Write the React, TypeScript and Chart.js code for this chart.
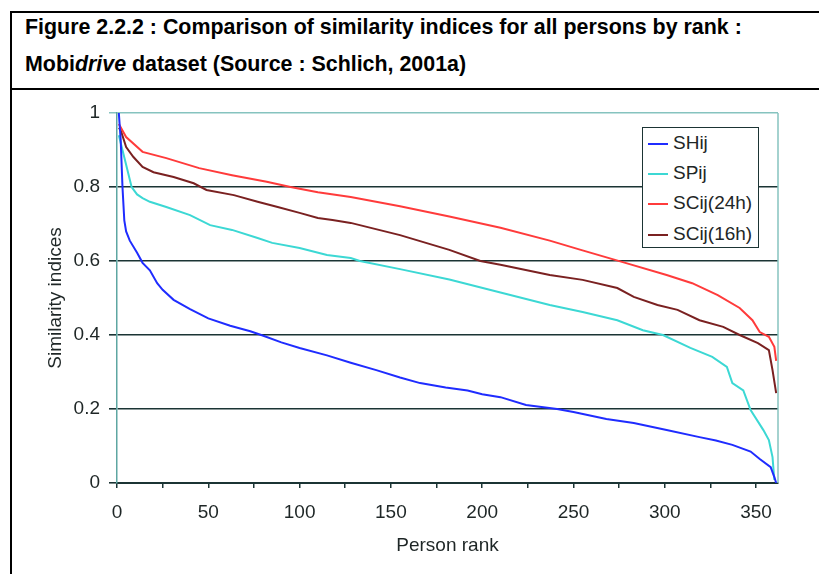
import React, { useEffect, useRef } from 'react';
import { Chart, registerables } from 'chart.js';

Chart.register(...registerables);

// ---- data ----
const seriesNames = ['SHij', 'SPij', 'SCij(24h)', 'SCij(16h)'];
const seriesColors = ['#1f2cff', '#3cd8d4', '#ff3b3b', '#7a2121'];

const shRank = [1, 2, 3, 4, 5, 7, 11, 14, 18, 22, 25, 31, 40, 50, 62, 73, 79, 90, 100, 115, 128, 142, 155, 166, 180, 192, 200, 210, 224, 241, 250, 268, 283, 301, 319, 328, 337, 347, 352, 358, 360, 361];
const shValue = [1.0, 0.93, 0.8, 0.71, 0.68, 0.655, 0.622, 0.595, 0.575, 0.54, 0.522, 0.495, 0.47, 0.445, 0.425, 0.41, 0.4, 0.38, 0.365, 0.345, 0.325, 0.305, 0.285, 0.27, 0.258, 0.25, 0.24, 0.232, 0.211, 0.2, 0.192, 0.173, 0.162, 0.143, 0.124, 0.115, 0.103, 0.085, 0.065, 0.043, 0.016, 0.0];

const spRank = [1, 3, 5, 8, 11, 14, 18, 27, 40, 51, 63, 77, 85, 100, 115, 128, 133, 155, 182, 210, 237, 255, 274, 288, 299, 314, 326, 334, 337, 343, 347, 354, 357, 359, 360];
const spValue = [0.94, 0.9, 0.86, 0.8, 0.78, 0.77, 0.76, 0.746, 0.724, 0.697, 0.684, 0.662, 0.649, 0.635, 0.616, 0.608, 0.6, 0.578, 0.55, 0.515, 0.481, 0.462, 0.44, 0.413, 0.4, 0.365, 0.341, 0.314, 0.27, 0.25, 0.197, 0.143, 0.116, 0.07, 0.008];

const sc24Rank = [1, 5, 14, 27, 45, 63, 82, 95, 110, 128, 155, 182, 210, 237, 254, 277, 301, 315, 329, 341, 348, 352, 357, 360, 361];
const sc24Value = [0.97, 0.935, 0.895, 0.878, 0.851, 0.832, 0.814, 0.8, 0.786, 0.773, 0.748, 0.72, 0.69, 0.655, 0.63, 0.597, 0.562, 0.54, 0.508, 0.473, 0.44, 0.408, 0.395, 0.368, 0.33];

const sc16Rank = [1, 2, 5, 9, 14, 20, 31, 42, 49, 64, 77, 88, 100, 110, 118, 128, 155, 182, 199, 210, 237, 255, 274, 283, 296, 307, 319, 332, 341, 351, 357, 359, 361];
const sc16Value = [0.96, 0.954, 0.908, 0.881, 0.854, 0.84, 0.827, 0.81, 0.792, 0.778, 0.76, 0.746, 0.73, 0.716, 0.711, 0.703, 0.67, 0.63, 0.6, 0.59, 0.562, 0.549, 0.527, 0.503, 0.481, 0.468, 0.44, 0.422, 0.4, 0.378, 0.359, 0.305, 0.243];

const xTickValues = [0, 25, 50, 75, 100, 125, 150, 175, 200, 225, 250, 275, 300, 325, 350];
const xTickLabels = ['0', '', '50', '', '100', '', '150', '', '200', '', '250', '', '300', '', '350'];
const yTickValues = [0, 0.2, 0.4, 0.6, 0.8, 1];
const yTickLabels = ['0', '0.2', '0.4', '0.6', '0.8', '1'];

const xTitle = 'Person rank';
const yTitle = 'Similarity indices';

const FONT = "'Liberation Sans', Arial, sans-serif";
const TEXT = '#1e2626';
const GRID_DARK = '#1b3434';
const FRAME = '#86c3bf';
const AXIS_LEFT = '#5ea6a2';

const pairs = (r: number[], v: number[]) => r.map((x, i) => ({ x, y: v[i] }));

export default function App() {
  const ref = useRef<HTMLCanvasElement | null>(null);

  useEffect(() => {
    if (!ref.current) return;
    const data = [pairs(shRank, shValue), pairs(spRank, spValue), pairs(sc24Rank, sc24Value), pairs(sc16Rank, sc16Value)];
    const framePlugin = {
      id: 'framePlugin',
      afterDraw(chart: any) {
        const { ctx, chartArea } = chart;
        ctx.save();
        ctx.strokeStyle = FRAME;
        ctx.lineWidth = 1.5;
        ctx.beginPath();
        ctx.moveTo(chartArea.right, chartArea.top);
        ctx.lineTo(chartArea.right, chartArea.bottom);
        ctx.stroke();
        ctx.restore();
      },
    };
    const chart = new Chart(ref.current, {
      type: 'line',
      data: {
        datasets: seriesNames.map((name, i) => ({
          label: name,
          data: data[i],
          borderColor: seriesColors[i],
          backgroundColor: seriesColors[i],
          borderWidth: 2,
          pointRadius: 0,
          tension: 0,
          fill: false,
        })),
      },
      options: {
        animation: false,
        responsive: false,
        devicePixelRatio: 1,
        layout: { padding: { left: 0, top: 23, right: 41, bottom: 0 } },
        plugins: { legend: { display: false }, tooltip: { enabled: false } },
        scales: {
          x: {
            type: 'linear',
            min: 0,
            max: 362,
            afterBuildTicks: (scale: any) => {
              scale.ticks = xTickValues.map((v) => ({ value: v }));
            },
            afterFit: (scale: any) => {
              scale.height = 91;
            },
            grid: { drawOnChartArea: false, drawTicks: true, tickLength: 5, color: GRID_DARK, lineWidth: 1.5 },
            border: { display: true, color: GRID_DARK, width: 2 },
            ticks: {
              autoSkip: false,
              maxRotation: 0,
              padding: 13,
              color: TEXT,
              font: { family: FONT, size: 19 },
              callback: (_v: any, i: number) => xTickLabels[i],
            },
            title: { display: true, text: xTitle, color: TEXT, font: { family: FONT, size: 19 }, padding: { top: 0, bottom: 17 } },
          },
          y: {
            type: 'linear',
            min: 0,
            max: 1,
            afterBuildTicks: (scale: any) => {
              scale.ticks = yTickValues.map((v) => ({ value: v }));
            },
            afterFit: (scale: any) => {
              scale.width = 105;
            },
            grid: {
              drawTicks: true,
              tickLength: 8,
              color: (c: any) => (c.tick && c.tick.value === 1 ? FRAME : GRID_DARK),
              lineWidth: (c: any) => (c.tick && c.tick.value === 1 ? 1.5 : 1.6),
            },
            border: { display: true, color: AXIS_LEFT, width: 1.5 },
            ticks: {
              autoSkip: false,
              padding: 9,
              color: TEXT,
              font: { family: FONT, size: 19 },
              callback: (_v: any, i: number) => yTickLabels[i],
            },
            title: { display: true, text: yTitle, color: TEXT, font: { family: FONT, size: 19 }, padding: { top: 32, bottom: 0 } },
          },
        },
      },
      plugins: [framePlugin],
    } as any);
    return () => chart.destroy();
  }, []);

  const legendRowTops = [16, 46, 76, 107];

  return (
    <div style={{ position: 'absolute', left: 0, top: 0, width: 819, height: 574, overflow: 'hidden', background: '#fff' }}>
      {/* figure frame */}
      <div style={{ position: 'absolute', left: 10, top: 11, width: 900, height: 2, background: '#000' }} />
      <div style={{ position: 'absolute', left: 10, top: 11, width: 2, height: 600, background: '#000' }} />
      <div style={{ position: 'absolute', left: 10, top: 88, width: 900, height: 2, background: '#000' }} />
      <div style={{ position: 'absolute', left: 25, top: 15, whiteSpace: 'nowrap', font: `bold 21.4px ${FONT}`, lineHeight: '24px', color: '#000' }}>
        Figure 2.2.2 : Comparison of similarity indices for all persons by rank :
      </div>
      <div style={{ position: 'absolute', left: 25, top: 52, whiteSpace: 'nowrap', font: `bold 21.4px ${FONT}`, lineHeight: '24px', color: '#000' }}>
        Mobi<i>drive</i> dataset (Source : Schlich, 2001a)
      </div>
      <canvas ref={ref} width={807} height={484} style={{ position: 'absolute', left: 12, top: 90, width: 807, height: 484 }} />
      {/* legend */}
      <div style={{ position: 'absolute', left: 642, top: 127, width: 117, height: 121, boxSizing: 'border-box', border: `1.5px solid ${GRID_DARK}`, background: '#fff' }}>
        {seriesNames.map((name, i) => (
          <div key={name} style={{ position: 'absolute', left: 0, top: legendRowTops[i] - 12, height: 24, width: 115 }}>
            <div style={{ position: 'absolute', left: 5, top: 11, width: 20, height: 2, background: seriesColors[i] }} />
            <div style={{ position: 'absolute', left: 30, top: 0, lineHeight: '24px', font: `19px ${FONT}`, color: TEXT, whiteSpace: 'nowrap' }}>{name}</div>
          </div>
        ))}
      </div>
    </div>
  );
}
